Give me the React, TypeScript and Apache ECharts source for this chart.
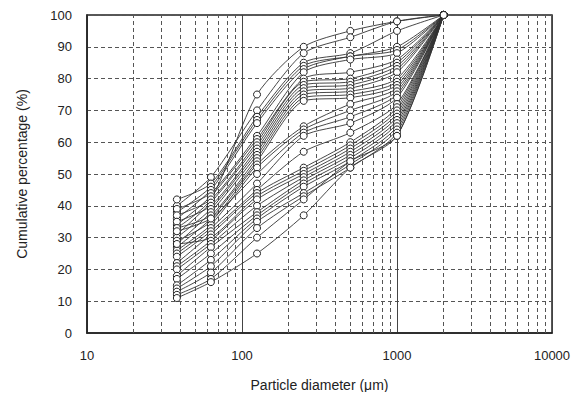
import React, { useEffect, useRef } from "react";
import * as echarts from "echarts";

const sizes = [38, 63, 125, 250, 500, 1000, 2000];

const curves: number[][] = [
  [33, 42, 75, 90, 95, 98, 100],
  [40, 49, 70, 88, 93, 98, 100],
  [42, 47, 68, 85, 88, 95, 100],
  [38, 46, 67, 84, 87, 90, 100],
  [36, 45, 66, 83, 87, 89, 100],
  [39, 44, 62, 82, 86, 88, 100],
  [34, 43, 61, 80, 82, 86, 100],
  [37, 42, 60, 79, 80, 85, 100],
  [31, 41, 59, 78, 79, 84, 100],
  [35, 40, 58, 77, 78, 83, 100],
  [30, 39, 57, 76, 77, 82, 100],
  [28, 38, 56, 75, 76, 80, 100],
  [33, 37, 55, 74, 75, 79, 100],
  [27, 36, 54, 73, 74, 78, 100],
  [29, 35, 53, 65, 72, 77, 100],
  [26, 34, 52, 64, 70, 76, 100],
  [32, 36, 50, 63, 68, 75, 100],
  [25, 33, 47, 62, 66, 74, 100],
  [24, 32, 45, 57, 63, 72, 100],
  [22, 31, 44, 52, 60, 71, 100],
  [28, 30, 43, 51, 59, 70, 100],
  [21, 29, 42, 50, 58, 69, 100],
  [20, 28, 40, 49, 57, 68, 100],
  [18, 27, 38, 48, 56, 67, 100],
  [17, 25, 37, 47, 55, 66, 100],
  [15, 23, 36, 46, 54, 65, 100],
  [14, 21, 35, 44, 53, 64, 100],
  [13, 19, 33, 43, 52, 63, 100],
  [12, 17, 30, 42, 54, 62, 100],
  [11, 16, 25, 37, 52, 62, 100],
];

const minorGridX = [
  20, 30, 40, 50, 60, 70, 80, 90,
  200, 300, 400, 500, 600, 700, 800, 900,
  2000, 3000, 4000, 5000, 6000, 7000, 8000, 9000,
];

const xTickLabels = ["10", "100", "1000", "10000"];

export default function App() {
  const ref = useRef<HTMLDivElement>(null);
  useEffect(() => {
    if (!ref.current) return;
    const chart = echarts.init(ref.current, null, { renderer: "svg" });
    const font = "Liberation Sans, Arial, sans-serif";
    const series: any[] = curves.map((vals, i) => ({
      type: "line",
      data: sizes.map((s, j) => [s, vals[j]]),
      smooth: 0.25,
      symbol: "circle",
      symbolSize: 7,
      itemStyle: { color: "#fff", borderColor: "#222", borderWidth: 1 },
      lineStyle: { color: "#333", width: 0.9 },
      z: 3,
      markLine:
        i === 0
          ? {
              silent: true,
              symbol: "none",
              label: { show: false },
              lineStyle: { color: "#555", type: [4, 3], width: 1 },
              data: minorGridX.map((v) => ({ xAxis: v })),
              z: 1,
            }
          : undefined,
    }));
    chart.setOption({
      animation: false,
      backgroundColor: "#fff",
      grid: {
        left: 87,
        right: 28,
        top: 15,
        bottom: 67,
        show: true,
        borderColor: "#222",
        borderWidth: 1.5,
      },
      xAxis: {
        type: "log",
        logBase: 10,
        min: 10,
        max: 10000,
        name: "Particle diameter (μm)",
        nameLocation: "middle",
        nameGap: 45,
        nameTextStyle: { fontFamily: font, fontSize: 14, color: "#222" },
        axisLine: { show: true, lineStyle: { color: "#222", width: 1.5 } },
        axisTick: { show: false },
        axisLabel: {
          fontFamily: font,
          fontSize: 13,
          color: "#222",
          margin: 16,
          formatter: (v: number) => {
            const idx = Math.round(Math.log10(v)) - 1;
            return xTickLabels[idx] ?? "";
          },
        },
        splitLine: { show: true, lineStyle: { color: "#444", width: 1, type: "solid" } },
      },
      yAxis: {
        type: "value",
        min: 0,
        max: 100,
        interval: 10,
        name: "Cumulative percentage (%)",
        nameLocation: "middle",
        nameGap: 58,
        nameTextStyle: { fontFamily: font, fontSize: 14, color: "#222" },
        axisLine: { show: true, lineStyle: { color: "#222", width: 1.5 } },
        axisTick: { show: false },
        axisLabel: { fontFamily: font, fontSize: 13, color: "#222", margin: 15 },
        splitLine: { show: true, lineStyle: { color: "#555", width: 1, type: [4, 3] } },
      },
      series,
    });
    return () => chart.dispose();
  }, []);
  return <div ref={ref} style={{ width: 580, height: 400, margin: -8 }} />;
}
